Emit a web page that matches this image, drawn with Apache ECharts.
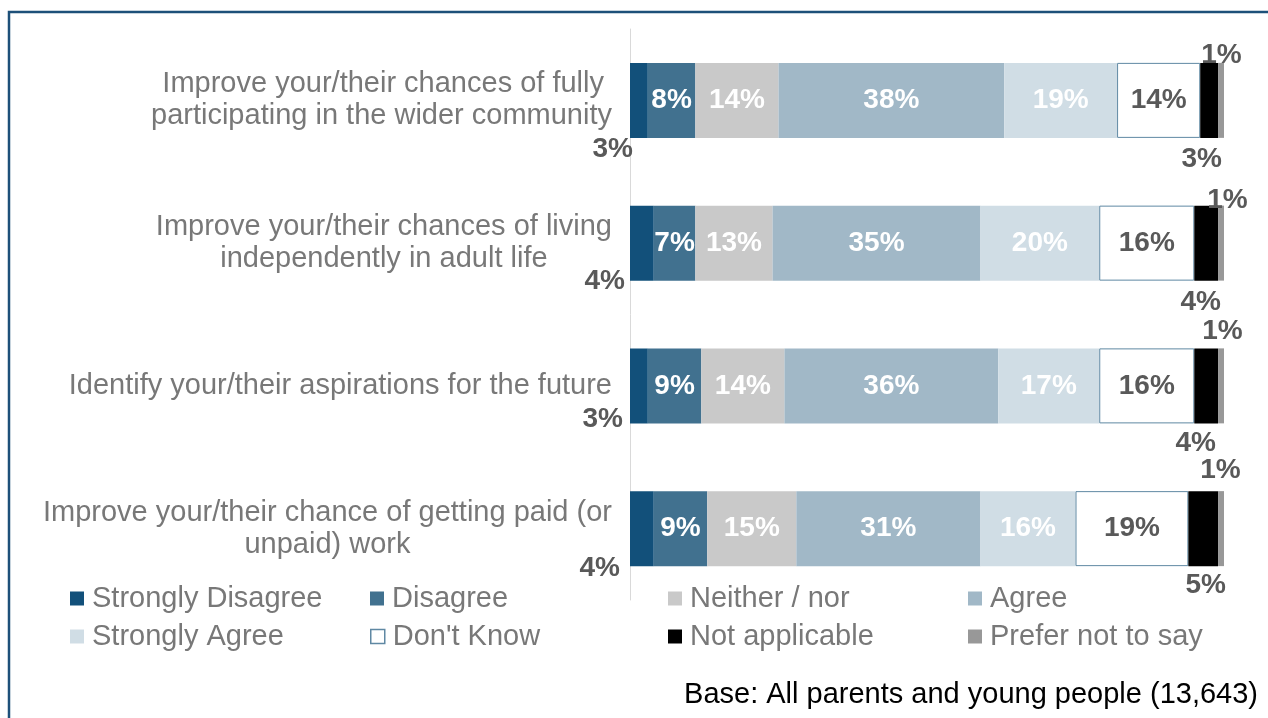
<!DOCTYPE html>
<html>
<head>
<meta charset="utf-8">
<script src="https://cdn.jsdelivr.net/npm/echarts@6/dist/echarts.min.js"></script>
<style>
  html, body { margin: 0; padding: 0; background: #fff; }
  #chart { width: 1268px; height: 718px; }
</style>
</head>
<body>
<div id="chart"></div>
<script>
// ---- data ----
const categories = [
  'Improve your/their chances of fully\nparticipating in the wider community',
  'Improve your/their chances of living\nindependently in adult life',
  'Identify your/their aspirations for the future',
  'Improve your/their chance of getting paid (or\nunpaid) work'
];
const seriesNames = ['Strongly Disagree', 'Disagree', 'Neither / nor', 'Agree',
  'Strongly Agree', "Don't Know", 'Not applicable', 'Prefer not to say'];
const stronglyDisagree = [3, 4, 3, 4];
const disagree = [8, 7, 9, 9];
const neither = [14, 13, 14, 15];
const agree = [38, 35, 36, 31];
const stronglyAgree = [19, 20, 17, 16];
const dontKnow = [14, 16, 16, 19];
const notApplicable = [3, 4, 4, 5];
const preferNot = [1, 1, 1, 1];
const baseNote = 'Base: All parents and young people (13,643)';

// ---- styling / layout ----
const FONT = "'Liberation Sans', Arial, sans-serif";
const colors = ['#12507a', '#41718f', '#c9c9c9', '#a1b8c7', '#d0dde5', '#ffffff', '#000000', '#989898'];
const insideLabelColors = ['#595959', '#ffffff', '#ffffff', '#ffffff', '#ffffff', '#595959', '#595959', '#595959'];
const catLineAlign = [['r8', 'r'], ['c', 'c'], ['r'], ['c', 'c']];
// label nudges for small outside labels (per category)
const sdOffsets = [[-6, 11.5], [-17, 0.7], [-16, -4], [-22, 2.5]];
const naOffsets = [[-7.5, 21.5], [-5.5, 21.5], [-10.5, 20], [2.5, 19]];
const pnOffsets = [[0.5, -8], [6.5, -5], [1.5, -17], [-0.5, -21]];

const values = [stronglyDisagree, disagree, neither, agree, stronglyAgree, dontKnow, notApplicable, preferNot];

const labelBase = {
  show: true,
  formatter: '{c}%',
  fontFamily: FONT,
  fontWeight: 'bold',
  fontSize: 28
};

function buildSeries(idx) {
  const arr = values[idx];
  const s = {
    name: seriesNames[idx],
    type: 'bar',
    stack: 'total',
    barWidth: 75,
    itemStyle: { color: colors[idx] },
    emphasis: { disabled: true },
    label: Object.assign({}, labelBase, { position: 'inside', color: insideLabelColors[idx] }),
    data: arr.slice()
  };
  if (idx === 5) {
    s.itemStyle = { color: '#ffffff', borderColor: '#5f88a3', borderWidth: 1 };
  }
  let offs = null, pos = null, align = 'center';
  if (idx === 0) { offs = sdOffsets; pos = 'bottom'; align = 'right'; }
  if (idx === 6) { offs = naOffsets; pos = 'bottom'; }
  if (idx === 7) { offs = pnOffsets; pos = 'top'; }
  if (offs) {
    s.label = Object.assign({}, labelBase, {
      position: pos, distance: 0, align: align, verticalAlign: 'middle', color: '#595959'
    });
    s.data = arr.map((v, i) => ({ value: v, label: { offset: offs[i] } }));
  }
  return s;
}

const legendCols = [70, 370, 668, 968];
const legendRows = [582, 620];
const legends = seriesNames.map((name, i) => {
  const item = { name: name, icon: 'rect' };
  if (i === 5) item.itemStyle = { color: '#ffffff', borderColor: '#5f88a3', borderWidth: 1.5 };
  return {
    data: [item],
    left: legendCols[i % 4],
    top: legendRows[Math.floor(i / 4)] + 2,
    padding: 0,
    itemWidth: 14,
    itemHeight: 14,
    itemGap: 0,
    selectedMode: false,
    textStyle: { fontFamily: FONT, fontSize: 29, color: '#787878', lineHeight: 28, padding: [0, 0, 0, 3] }
  };
});

const richStyle = { fontFamily: FONT, fontSize: 29, color: '#787878', lineHeight: 32 };

const option = {
  animation: false,
  backgroundColor: '#ffffff',
  grid: { left: 630, right: 44, top: 29, bottom: 118, containLabel: false },
  xAxis: { type: 'value', min: 0, max: 100, show: false },
  yAxis: {
    type: 'category',
    inverse: true,
    data: categories,
    axisTick: { show: false },
    axisLine: { show: true, lineStyle: { color: '#d9d9d9', width: 1 } },
    axisLabel: {
      margin: 18,
      align: 'right',
      formatter: function (value, index) {
        return value.split('\n').map((l, i) => '{' + catLineAlign[index][i] + '|' + l + '}').join('\n');
      },
      rich: {
        r: Object.assign({ align: 'right' }, richStyle),
        r8: Object.assign({ align: 'right', padding: [0, 8, 0, 0] }, richStyle),
        c: Object.assign({ align: 'center' }, richStyle)
      }
    }
  },
  legend: legends,
  graphic: [
    {
      type: 'rect',
      shape: { x: 9, y: 12, width: 1400, height: 900 },
      style: { fill: 'none', stroke: '#1d5079', lineWidth: 2.5 },
      silent: true
    },
    {
      type: 'text',
      right: 10,
      top: 680,
      style: { text: baseNote, fontFamily: FONT, fontSize: 29, fill: '#000000' },
      silent: true
    }
  ],
  series: seriesNames.map((n, i) => buildSeries(i))
};

const chart = echarts.init(document.getElementById('chart'), null, { renderer: 'canvas' });
chart.setOption(option);
</script>
</body>
</html>
